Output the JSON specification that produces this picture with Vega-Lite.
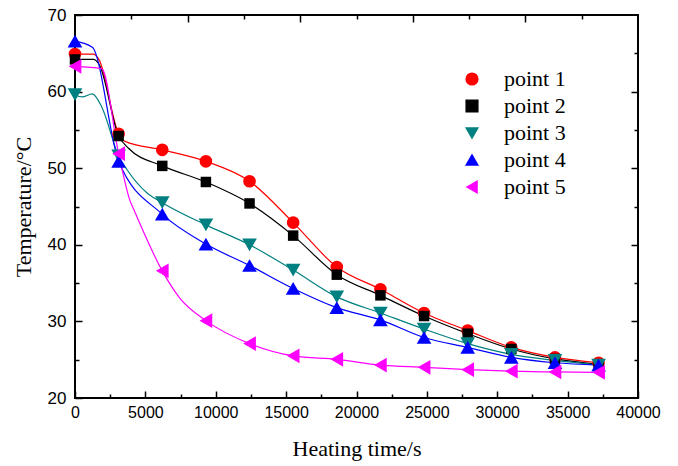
{
  "$schema": "https://vega.github.io/schema/vega-lite/v6.json",
  "width": 563,
  "height": 383,
  "autosize": {"type": "none"},
  "padding": {"left": 75, "top": 15, "right": 40, "bottom": 68},
  "background": "white",
  "config": {
    "view": {"stroke": "black", "strokeWidth": 2},
    "axis": {
      "grid": false,
      "domain": false,
      "labelFont": "Liberation Sans",
      "labelFontSize": 16,
      "labelColor": "black",
      "labelFlush": false,
      "tickColor": "black",
      "tickWidth": 1.5,
      "titleFont": "Liberation Serif",
      "titleFontSize": 22,
      "titleFontWeight": "normal",
      "titleColor": "black"
    }
  },
  "datasets": {
    "lines": [
      {"t": 0, "temp": 64.9, "series": "point 1"},
      {"t": 1300, "temp": 64.9, "series": "point 1"},
      {"t": 1700, "temp": 64.2, "series": "point 1"},
      {"t": 3100, "temp": 54.5, "series": "point 1"},
      {"t": 3550, "temp": 53.5, "series": "point 1"},
      {"t": 6200, "temp": 52.4, "series": "point 1"},
      {"t": 9300, "temp": 50.9, "series": "point 1"},
      {"t": 12400, "temp": 48.3, "series": "point 1"},
      {"t": 15500, "temp": 42.9, "series": "point 1"},
      {"t": 18600, "temp": 37.1, "series": "point 1"},
      {"t": 21700, "temp": 34.2, "series": "point 1"},
      {"t": 24800, "temp": 31.1, "series": "point 1"},
      {"t": 27900, "temp": 28.8, "series": "point 1"},
      {"t": 31000, "temp": 26.6, "series": "point 1"},
      {"t": 34100, "temp": 25.3, "series": "point 1"},
      {"t": 37200, "temp": 24.6, "series": "point 1"},

      {"t": 0, "temp": 64.2, "series": "point 2"},
      {"t": 1300, "temp": 64.2, "series": "point 2"},
      {"t": 1700, "temp": 63.6, "series": "point 2"},
      {"t": 3100, "temp": 54.2, "series": "point 2"},
      {"t": 3800, "temp": 52.6, "series": "point 2"},
      {"t": 6200, "temp": 50.3, "series": "point 2"},
      {"t": 9300, "temp": 48.2, "series": "point 2"},
      {"t": 12400, "temp": 45.4, "series": "point 2"},
      {"t": 15500, "temp": 41.2, "series": "point 2"},
      {"t": 18600, "temp": 36.1, "series": "point 2"},
      {"t": 21700, "temp": 33.4, "series": "point 2"},
      {"t": 24800, "temp": 30.7, "series": "point 2"},
      {"t": 27900, "temp": 28.4, "series": "point 2"},
      {"t": 31000, "temp": 26.4, "series": "point 2"},
      {"t": 34100, "temp": 25.1, "series": "point 2"},
      {"t": 37200, "temp": 24.4, "series": "point 2"},

      {"t": 0, "temp": 59.6, "series": "point 3"},
      {"t": 500, "temp": 59.3, "series": "point 3"},
      {"t": 1230, "temp": 59.7, "series": "point 3"},
      {"t": 1900, "temp": 58.0, "series": "point 3"},
      {"t": 3100, "temp": 51.6, "series": "point 3"},
      {"t": 3700, "temp": 49.8, "series": "point 3"},
      {"t": 5100, "temp": 46.8, "series": "point 3"},
      {"t": 6200, "temp": 45.5, "series": "point 3"},
      {"t": 9300, "temp": 42.6, "series": "point 3"},
      {"t": 12400, "temp": 40.0, "series": "point 3"},
      {"t": 15500, "temp": 36.7, "series": "point 3"},
      {"t": 18600, "temp": 33.2, "series": "point 3"},
      {"t": 21700, "temp": 31.1, "series": "point 3"},
      {"t": 24800, "temp": 29.0, "series": "point 3"},
      {"t": 27900, "temp": 27.1, "series": "point 3"},
      {"t": 31000, "temp": 25.7, "series": "point 3"},
      {"t": 34100, "temp": 24.9, "series": "point 3"},
      {"t": 37200, "temp": 24.3, "series": "point 3"},

      {"t": 0, "temp": 66.6, "series": "point 4"},
      {"t": 1230, "temp": 65.8, "series": "point 4"},
      {"t": 3100, "temp": 50.9, "series": "point 4"},
      {"t": 6200, "temp": 44.0, "series": "point 4"},
      {"t": 9300, "temp": 40.1, "series": "point 4"},
      {"t": 12400, "temp": 37.3, "series": "point 4"},
      {"t": 15500, "temp": 34.3, "series": "point 4"},
      {"t": 18600, "temp": 31.8, "series": "point 4"},
      {"t": 21700, "temp": 30.2, "series": "point 4"},
      {"t": 24800, "temp": 27.9, "series": "point 4"},
      {"t": 27900, "temp": 26.6, "series": "point 4"},
      {"t": 31000, "temp": 25.3, "series": "point 4"},
      {"t": 34100, "temp": 24.6, "series": "point 4"},
      {"t": 37200, "temp": 24.3, "series": "point 4"},

      {"t": 0, "temp": 63.3, "series": "point 5"},
      {"t": 1900, "temp": 63.0, "series": "point 5"},
      {"t": 3100, "temp": 51.9, "series": "point 5"},
      {"t": 3900, "temp": 45.8, "series": "point 5"},
      {"t": 4200, "temp": 44.5, "series": "point 5"},
      {"t": 6200, "temp": 36.6, "series": "point 5"},
      {"t": 7460, "temp": 33.0, "series": "point 5"},
      {"t": 9300, "temp": 30.1, "series": "point 5"},
      {"t": 12400, "temp": 27.1, "series": "point 5"},
      {"t": 15500, "temp": 25.5, "series": "point 5"},
      {"t": 18600, "temp": 25.05, "series": "point 5"},
      {"t": 21700, "temp": 24.3, "series": "point 5"},
      {"t": 24800, "temp": 24.0, "series": "point 5"},
      {"t": 27900, "temp": 23.7, "series": "point 5"},
      {"t": 31000, "temp": 23.5, "series": "point 5"},
      {"t": 34100, "temp": 23.4, "series": "point 5"},
      {"t": 37200, "temp": 23.35, "series": "point 5"}
    ],
    "markers": [
      {"t": 0, "temp": 64.9, "series": "point 1"},
      {"t": 3100, "temp": 54.5, "series": "point 1"},
      {"t": 6200, "temp": 52.4, "series": "point 1"},
      {"t": 9300, "temp": 50.9, "series": "point 1"},
      {"t": 12400, "temp": 48.3, "series": "point 1"},
      {"t": 15500, "temp": 42.9, "series": "point 1"},
      {"t": 18600, "temp": 37.1, "series": "point 1"},
      {"t": 21700, "temp": 34.2, "series": "point 1"},
      {"t": 24800, "temp": 31.1, "series": "point 1"},
      {"t": 27900, "temp": 28.8, "series": "point 1"},
      {"t": 31000, "temp": 26.6, "series": "point 1"},
      {"t": 34100, "temp": 25.3, "series": "point 1"},
      {"t": 37200, "temp": 24.6, "series": "point 1"},

      {"t": 0, "temp": 64.2, "series": "point 2"},
      {"t": 3100, "temp": 54.2, "series": "point 2"},
      {"t": 6200, "temp": 50.3, "series": "point 2"},
      {"t": 9300, "temp": 48.2, "series": "point 2"},
      {"t": 12400, "temp": 45.4, "series": "point 2"},
      {"t": 15500, "temp": 41.2, "series": "point 2"},
      {"t": 18600, "temp": 36.1, "series": "point 2"},
      {"t": 21700, "temp": 33.4, "series": "point 2"},
      {"t": 24800, "temp": 30.7, "series": "point 2"},
      {"t": 27900, "temp": 28.4, "series": "point 2"},
      {"t": 31000, "temp": 26.4, "series": "point 2"},
      {"t": 34100, "temp": 25.1, "series": "point 2"},
      {"t": 37200, "temp": 24.4, "series": "point 2"},

      {"t": 0, "temp": 59.6, "series": "point 3"},
      {"t": 3100, "temp": 51.6, "series": "point 3"},
      {"t": 6200, "temp": 45.5, "series": "point 3"},
      {"t": 9300, "temp": 42.6, "series": "point 3"},
      {"t": 12400, "temp": 40.0, "series": "point 3"},
      {"t": 15500, "temp": 36.7, "series": "point 3"},
      {"t": 18600, "temp": 33.2, "series": "point 3"},
      {"t": 21700, "temp": 31.1, "series": "point 3"},
      {"t": 24800, "temp": 29.0, "series": "point 3"},
      {"t": 27900, "temp": 27.1, "series": "point 3"},
      {"t": 31000, "temp": 25.7, "series": "point 3"},
      {"t": 34100, "temp": 24.9, "series": "point 3"},
      {"t": 37200, "temp": 24.3, "series": "point 3"},

      {"t": 0, "temp": 66.6, "series": "point 4"},
      {"t": 3100, "temp": 50.9, "series": "point 4"},
      {"t": 6200, "temp": 44.0, "series": "point 4"},
      {"t": 9300, "temp": 40.1, "series": "point 4"},
      {"t": 12400, "temp": 37.3, "series": "point 4"},
      {"t": 15500, "temp": 34.3, "series": "point 4"},
      {"t": 18600, "temp": 31.8, "series": "point 4"},
      {"t": 21700, "temp": 30.2, "series": "point 4"},
      {"t": 24800, "temp": 27.9, "series": "point 4"},
      {"t": 27900, "temp": 26.6, "series": "point 4"},
      {"t": 31000, "temp": 25.3, "series": "point 4"},
      {"t": 34100, "temp": 24.6, "series": "point 4"},
      {"t": 37200, "temp": 24.3, "series": "point 4"},

      {"t": 0, "temp": 63.3, "series": "point 5"},
      {"t": 3100, "temp": 51.9, "series": "point 5"},
      {"t": 6200, "temp": 36.6, "series": "point 5"},
      {"t": 9300, "temp": 30.1, "series": "point 5"},
      {"t": 12400, "temp": 27.1, "series": "point 5"},
      {"t": 15500, "temp": 25.5, "series": "point 5"},
      {"t": 18600, "temp": 25.05, "series": "point 5"},
      {"t": 21700, "temp": 24.3, "series": "point 5"},
      {"t": 24800, "temp": 24.0, "series": "point 5"},
      {"t": 27900, "temp": 23.7, "series": "point 5"},
      {"t": 31000, "temp": 23.5, "series": "point 5"},
      {"t": 34100, "temp": 23.4, "series": "point 5"},
      {"t": 37200, "temp": 23.35, "series": "point 5"}
    ]
  },
  "resolve": {"axis": {"x": "independent", "y": "independent"}},
  "layer": [
    {
      "data": {"name": "lines"},
      "mark": {"type": "line", "interpolate": "monotone", "strokeWidth": 1.2},
      "encoding": {
        "x": {
          "field": "t", "type": "quantitative",
          "scale": {"domain": [0, 40000], "nice": false, "zero": false},
          "axis": {"orient": "bottom", "values": [0, 5000, 10000, 15000, 20000, 25000, 30000, 35000, 40000], "ticks": false, "labelPadding": 6, "format": "d", "title": "Heating time/s", "titlePadding": 18}
        },
        "y": {
          "field": "temp", "type": "quantitative",
          "scale": {"domain": [20, 70], "nice": false, "zero": false},
          "axis": {"orient": "left", "values": [20, 30, 40, 50, 60, 70], "ticks": false, "labelPadding": 9, "labelFontSize": 17, "title": "Temperature/°C", "titlePadding": 12}
        },
        "color": {
          "field": "series", "type": "nominal",
          "scale": {"domain": ["point 1", "point 2", "point 3", "point 4", "point 5"], "range": ["#FF0000", "#000000", "#008080", "#0000FF", "#FF00FF"]}
        },
        "detail": {"field": "series"}
      }
    },
    {
      "data": {"name": "markers"},
      "mark": {"type": "point", "filled": true, "opacity": 1},
      "encoding": {
        "x": {"field": "t", "type": "quantitative", "axis": null},
        "y": {"field": "temp", "type": "quantitative", "axis": null},
        "color": {"field": "series", "type": "nominal"},
        "size": {
          "condition": [
            {"test": "datum.series === 'point 1'", "value": 160},
            {"test": "datum.series === 'point 2'", "value": 110}
          ],
          "value": 215
        },
        "shape": {
          "field": "series", "type": "nominal",
          "scale": {"domain": ["point 1", "point 2", "point 3", "point 4", "point 5"], "range": ["circle", "square", "triangle-down", "triangle-up", "triangle-left"]},
          "legend": {
            "orient": "none",
            "legendX": 386,
            "legendY": 53,
            "title": null,
            "padding": 0,
            "symbolSize": 140,
            "symbolStrokeWidth": 1.3,
            "labelFont": "Liberation Serif",
            "labelFontSize": 22,
            "labelColor": "black",
            "labelOffset": 21,
            "rowPadding": 5,
            "labelLimit": 200
          }
        }
      }
    },
    {
      "data": {"name": "markers"},
      "mark": {"type": "point", "opacity": 0},
      "encoding": {
        "x": {"field": "t", "type": "quantitative", "axis": {"orient": "bottom", "values": [0, 5000, 10000, 15000, 20000, 25000, 30000, 35000, 40000], "labels": false, "tickSize": -7, "title": null}},
        "y": {"field": "temp", "type": "quantitative", "axis": {"orient": "left", "values": [20, 30, 40, 50, 60, 70], "labels": false, "tickSize": -7, "title": null}}
      }
    },
    {
      "data": {"name": "markers"},
      "mark": {"type": "point", "opacity": 0},
      "encoding": {
        "x": {"field": "t", "type": "quantitative", "axis": {"orient": "bottom", "values": [2500, 7500, 12500, 17500, 22500, 27500, 32500, 37500], "labels": false, "tickSize": -4, "title": null}},
        "y": {"field": "temp", "type": "quantitative", "axis": {"orient": "left", "values": [25, 35, 45, 55, 65], "labels": false, "tickSize": -4, "title": null}}
      }
    },
    {
      "data": {"name": "markers"},
      "mark": {"type": "point", "opacity": 0},
      "encoding": {
        "x": {"field": "t", "type": "quantitative", "axis": {"orient": "top", "values": [8000, 16000, 24000, 32000], "labels": false, "tickSize": -7, "title": null}},
        "y": {"field": "temp", "type": "quantitative", "axis": {"orient": "right", "values": [30, 40, 50, 60], "labels": false, "tickSize": -7, "title": null}}
      }
    },
    {
      "data": {"name": "markers"},
      "mark": {"type": "point", "opacity": 0},
      "encoding": {
        "x": {"field": "t", "type": "quantitative", "axis": {"orient": "top", "values": [4000, 12000, 20000, 28000, 36000], "labels": false, "tickSize": -4, "title": null}},
        "y": {"field": "temp", "type": "quantitative", "axis": {"orient": "right", "values": [25, 35, 45, 55, 65], "labels": false, "tickSize": -4, "title": null}}
      }
    }
  ]
}
